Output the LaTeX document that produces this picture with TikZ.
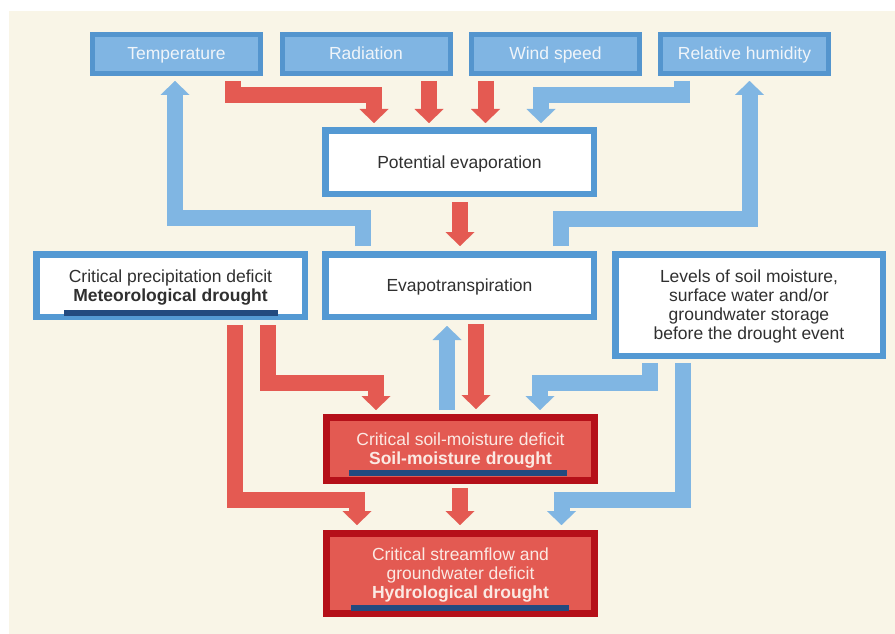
\documentclass[tikz,border=0pt]{standalone}
\usepackage{fontspec}
\setmainfont{Liberation Sans}
\usetikzlibrary{arrows.meta,calc}
\definecolor{cream}{HTML}{F9F5E7}
\definecolor{topfill}{HTML}{80B5E3}
\definecolor{topborder}{HTML}{5495CE}
\definecolor{arrblue}{HTML}{80B6E3}
\definecolor{boxblue}{HTML}{5499D3}
\definecolor{arrred}{HTML}{E45A52}
\definecolor{darkred}{HTML}{B51019}
\definecolor{redfill}{HTML}{E35A52}
\definecolor{navy}{HTML}{234A7F}
\definecolor{toptext}{HTML}{F0F5FA}
\definecolor{darktext}{HTML}{303030}
\definecolor{redtext}{HTML}{FBE9E3}
\newcommand{\tstrut}{\rule[-4pt]{0pt}{20pt}}
\tikzset{
  txt/.style={font=\fontsize{17.5}{19}\selectfont, align=center, inner sep=0pt},
  topbox/.style={txt, draw=topborder, fill=topfill, line width=5pt, text=toptext,
    minimum width=168pt, minimum height=39pt},
  whitebox/.style={txt, draw=boxblue, fill=white, line width=6.5pt, text=darktext,
    minimum width=268.5pt},
  redbox/.style={txt, draw=darkred, fill=redfill, line width=7pt, text=redtext,
    minimum width=268pt},
  flow/.style={line width=16pt, line join=miter, line cap=butt,
    -{Triangle[width=29pt,length=14pt,line width=0.01pt]}},
  redarr/.style={flow, draw=arrred, color=arrred},
  bluearr/.style={flow, draw=arrblue, color=arrblue},
  bar/.style={fill=navy}
}
\begin{document}
\begin{tikzpicture}[x=1pt,y=-1pt]
\useasboundingbox (0,0) rectangle (895,634);
\fill[white] (0,0) rectangle (895,634);
\fill[cream] (9,11) rectangle (895,634);

% top boxes
\node[topbox] (temp) at (176.5,54) {\tstrut Temperature};
\node[topbox] (rad)  at (366,54) {\tstrut Radiation};
\node[topbox] (wind) at (555.5,54) {\tstrut Wind speed};
\node[topbox] (rh)   at (744.5,54) {\tstrut Relative humidity};

% white boxes
\node[whitebox, minimum height=63.5pt] (pot)  at (459.5,162) {\tstrut Potential evaporation};
\node[whitebox, minimum height=62.5pt] (evap) at (459.5,285.5) {\tstrut Evapotranspiration};
\node[whitebox, minimum height=62.5pt] (prec) at (170.5,285.5) {\tstrut Critical precipitation deficit\\\textbf{Meteorological drought}};
\node[whitebox, minimum width=267.5pt, minimum height=101.5pt] (lev) at (749,305) {\tstrut Levels of soil moisture,\\surface water and/or\\groundwater storage\\before the drought event};

% red boxes
\node[redbox, minimum height=63pt] (soil) at (460.5,449) {\tstrut Critical soil-moisture deficit\\\textbf{Soil-moisture drought}};
\node[redbox, minimum height=80pt] (hyd) at (460.5,573.5) {\tstrut Critical streamflow and\\groundwater deficit\\\textbf{Hydrological drought}};

% underline bars
\fill[bar] (64,310) rectangle (278,316);
\fill[bar] (349,470) rectangle (567,476);
\fill[bar] (351,605) rectangle (569,611);

% reference coordinates
\coordinate (pt) at ($(pot.north)+(0,-4)$);

% arrows into potential evaporation
\draw[redarr] ($(temp.south)+(56,5)$) -- ++(0,14) -| ($(pot.north)+(-85.5,-4)$);
\draw[redarr] ($(rad.south)+(63,5)$) coordinate (r1) -- (r1 |- pt);
\draw[redarr] ($(wind.south)+(-70,5)$) coordinate (w1) -- (w1 |- pt);
\draw[bluearr] ($(rh.south)+(-62.5,5)$) -- ++(0,14) -| ($(pot.north)+(81.5,-4)$);

% feedback from evapotranspiration
\draw[bluearr] ($(evap.north)+(-97,-5)$) -- ++(0,-28) -| ($(temp.south)+(-1.5,5)$);
\draw[bluearr] ($(evap.north)+(101.5,-5)$) -- ++(0,-27.5) -| ($(rh.south)+(5,5)$);

% potential -> evapotranspiration
\draw[redarr] ($(pot.south)+(0.5,5)$) -- ($(evap.north)+(0.5,-5)$);

% evap <-> soil
\draw[bluearr] ($(soil.north)+(-13.5,-4)$) -- ($(evap.south)+(-12.5,6)$);
\draw[redarr] ($(evap.south)+(16.5,4)$) -- ($(soil.north)+(15.5,-5)$);

% precipitation deficit
\draw[redarr] ($(prec.south)+(97.5,5)$) -- ++(0,58) -| ($(soil.north)+(-84.5,-4)$);
\draw[redarr] ($(prec.south)+(64.5,5)$) -- ++(0,174.5) -| ($(hyd.north)+(-103.5,-5)$);

% soil -> hydro
\draw[redarr] ($(soil.south)+(-0.5,4)$) -- ($(hyd.north)+(-0.5,-5)$);

% levels
\draw[bluearr] ($(lev.south)+(-99,4)$) -- ++(0,20) -| ($(soil.north)+(79.5,-4)$);
\draw[bluearr] ($(lev.south)+(-66.5,4)$) -- ++(0,136.5) -| ($(hyd.north)+(101,-5)$);
\end{tikzpicture}
\end{document}
